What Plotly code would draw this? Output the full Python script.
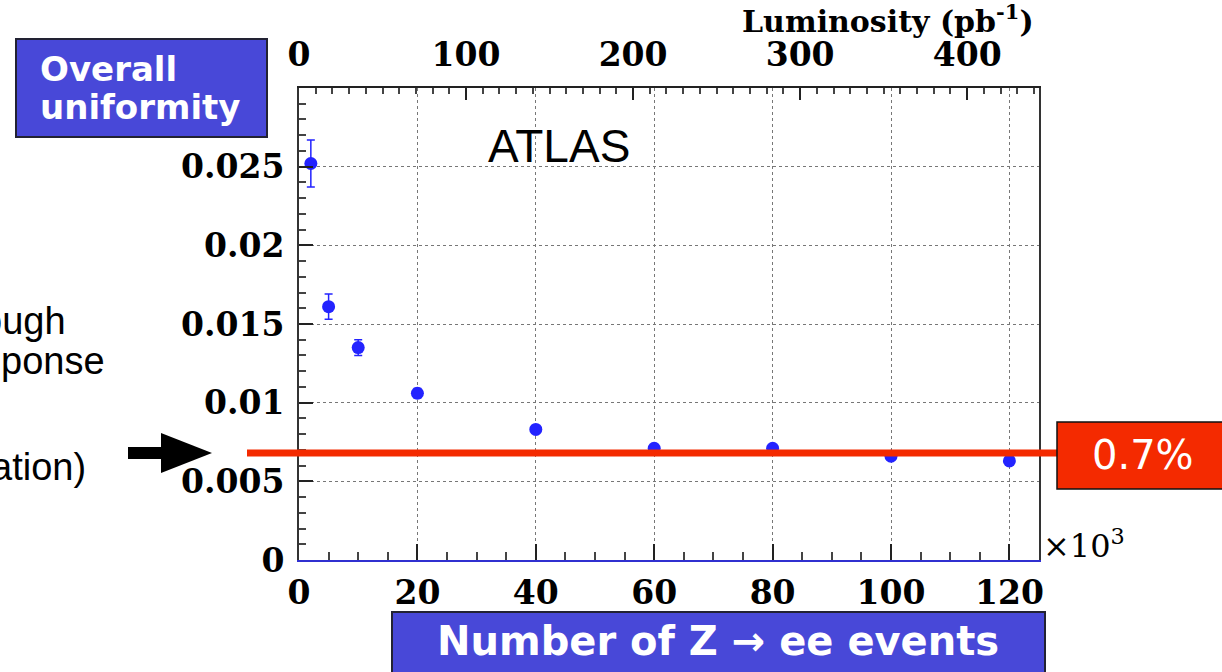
import plotly.graph_objects as go

# ---- data ----
n_events_k = [2, 5, 10, 20, 40, 60, 80, 100, 120]          # x (×10^3 events)
uniformity = [0.0252, 0.0161, 0.0135, 0.0106, 0.0083, 0.0071, 0.0071, 0.0066, 0.0063]
uniformity_err = [0.0015, 0.0008, 0.0005, 0.0003, 0.0002, 0.0002, 0.0002, 0.0002, 0.0002]
target_level = 0.0068
target_label = "0.7%"
y_tick_vals = [0, 0.005, 0.01, 0.015, 0.02, 0.025]
y_tick_text = ["0", "0.005", "0.01", "0.015", "0.02", "0.025"]
x_tick_vals = [0, 20, 40, 60, 80, 100, 120]
lumi_tick_vals = [0, 100, 200, 300, 400]
x_max = 125
lumi_max = 443
y_max = 0.030

# plot-area pixel geometry helpers (paper coords)
L, R, T, B = 299, 1039, 88, 560
W, H = R - L, B - T
def px(x): return (x - L) / W
def py(y): return (B - y) / H

blue = "#2323ff"
red = "#f42a00"
boxblue = "#4848d8"
serif = "DejaVu Serif"

fig = go.Figure()
fig.add_trace(go.Scatter(
    x=n_events_k, y=uniformity, mode="markers",
    marker=dict(color=blue, size=13, symbol="circle"),
    error_y=dict(type="data", array=uniformity_err, color=blue, thickness=1.5, width=4),
    showlegend=False, hoverinfo="skip"))
# invisible trace to anchor the luminosity axis
fig.add_trace(go.Scatter(x=[0], y=[0], xaxis="x2", mode="markers",
                         marker=dict(opacity=0), showlegend=False, hoverinfo="skip"))

tickfont = dict(family=serif, size=33, color="black", weight="bold")

fig.update_layout(
    width=1222, height=672,
    margin=dict(l=L, r=1222 - R, t=T, b=672 - B),
    paper_bgcolor="white", plot_bgcolor="white",
    xaxis=dict(range=[0, x_max], tickvals=x_tick_vals, ticks="inside", ticklen=16,
               tickwidth=2, tickcolor="#222",
               minor=dict(dtick=5, ticks="inside", ticklen=8, tickcolor="#444", showgrid=False),
               showgrid=True, gridcolor="#777", griddash="dot", gridwidth=1,
               showline=True, linecolor="#3030d0", linewidth=2, mirror=False,
               zeroline=False, tickfont=tickfont, ticklabelstandoff=2),
    xaxis2=dict(range=[0, lumi_max], overlaying="x", side="top", anchor="y",
                tickvals=lumi_tick_vals, ticks="inside", ticklen=12, tickwidth=2, tickcolor="#222",
                minor=dict(dtick=10, ticks="inside", ticklen=6, tickcolor="#444", showgrid=False),
                showgrid=False, showline=True, linecolor="#222", linewidth=2,
                zeroline=False, tickfont=tickfont, ticklabelstandoff=7),
    yaxis=dict(range=[0, y_max], tickvals=y_tick_vals, ticktext=y_tick_text,
               ticks="inside", ticklen=14, tickwidth=2, tickcolor="#222",
               minor=dict(dtick=0.001, ticks="inside", ticklen=7, tickcolor="#444", showgrid=False),
               showgrid=True, gridcolor="#777", griddash="dot", gridwidth=1,
               showline=True, linecolor="#333", linewidth=2, mirror=True,
               zeroline=False, tickfont=tickfont, ticklabelstandoff=6),
)

shapes = []
# red level line
shapes.append(dict(type="line", xref="paper", yref="y", x0=px(247), x1=px(1058),
                   y0=target_level, y1=target_level, line=dict(color=red, width=7)))
# red label box
shapes.append(dict(type="rect", xref="paper", yref="paper", x0=px(1057), x1=px(1226),
                   y0=py(489), y1=py(422), fillcolor=red, line=dict(color="#111", width=1.5)))
# overall uniformity box
shapes.append(dict(type="rect", xref="paper", yref="paper", x0=px(16), x1=px(267),
                   y0=py(137), y1=py(39), fillcolor=boxblue, line=dict(color="#222233", width=2)))
# bottom box
shapes.append(dict(type="rect", xref="paper", yref="paper", x0=px(392), x1=px(1045),
                   y0=py(690), y1=py(612), fillcolor=boxblue, line=dict(color="#222233", width=2)))
# black arrow
shapes.append(dict(type="rect", xref="paper", yref="paper", x0=px(128), x1=px(163),
                   y0=py(459), y1=py(447), fillcolor="black", line=dict(width=0)))
shapes.append(dict(type="path", xref="paper", yref="paper",
                   path=f"M {px(161)} {py(433)} L {px(161)} {py(473)} L {px(212)} {py(453)} Z",
                   fillcolor="black", line=dict(width=0)))
fig.update_layout(shapes=shapes)

ann = []
def add(text, x, y, xa="center", ya="middle", font=None):
    ann.append(dict(text=text, x=x, y=y, xref="paper", yref="paper", xanchor=xa, yanchor=ya,
                    showarrow=False, font=font))

add("ATLAS", px(559), py(146), font=dict(family="Liberation Sans", size=46, color="black"))
add(target_label, px(1143), py(455), font=dict(family="DejaVu Sans", size=40, color="white"))
add("×10<sup>3</sup>", px(1041), py(544), xa="left",
    font=dict(family=serif, size=32, color="black"))
add("Luminosity (pb<sup>-1</sup>)", px(1036), py(19), xa="right",
    font=dict(family=serif, size=30, color="black", weight="bold"))
add("Overall", px(38), py(69), xa="left",
    font=dict(family="DejaVu Sans", size=34, color="white", weight="bold"))
add("uniformity", px(38), py(107), xa="left",
    font=dict(family="DejaVu Sans", size=34, color="white", weight="bold"))
add("Number of Z → ee events", px(718), py(641),
    font=dict(family="DejaVu Sans", size=40, color="white", weight="bold"))
sidefont = dict(family="Liberation Sans", size=38, color="black")
add("ough", px(68), py(321), xa="right", font=sidefont)
add("ponse", px(107), py(361), xa="right", font=sidefont)
add("ation)", px(88), py(467), xa="right", font=sidefont)
fig.update_layout(annotations=ann)

fig.write_html("out.html")
